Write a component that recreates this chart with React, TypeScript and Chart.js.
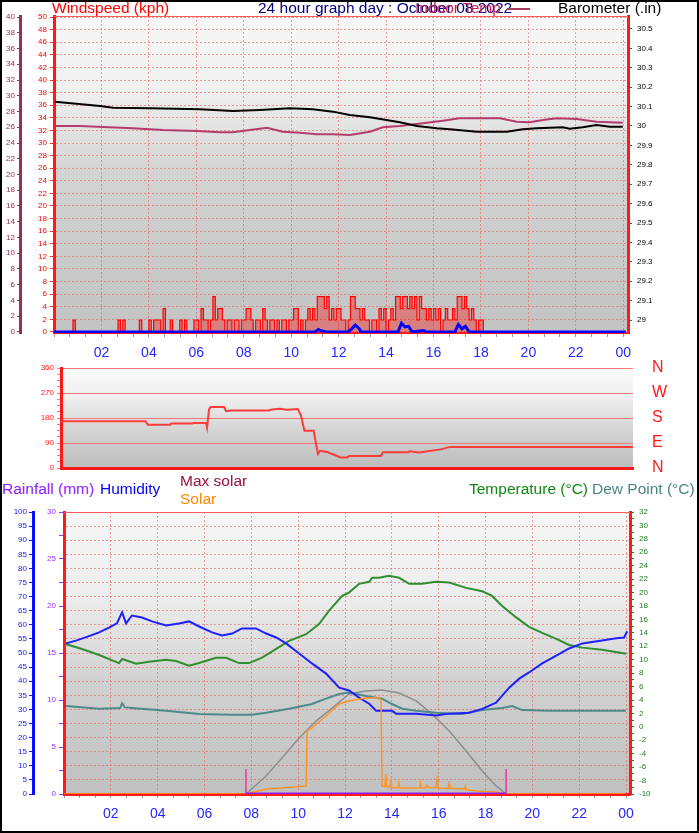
import React, { useEffect, useRef } from "react";
import { Chart, registerables } from "chart.js";

Chart.register(...registerables);

const FONT = "'Liberation Sans', Arial, Helvetica, sans-serif";
const GRID = "rgba(238, 80, 80, 0.55)";
const DASH = [2, 2];

// ---------- shared hour axis ----------
const hourTickValues = [2, 4, 6, 8, 10, 12, 14, 16, 18, 20, 22, 24];
const hourTickLabels = ["02", "04", "06", "08", "10", "12", "14", "16", "18", "20", "22", "00"];

// ---------- top panel: wind / barometer / indoor temp ----------
// gust (kph) every 0.1 h from 00:00
const gustKph = [
  0, 0, 0, 0, 0, 0, 0, 0, 1.9, 0,
  0, 0, 0, 0, 0, 0, 0, 0, 0, 0,
  0, 0, 0, 0, 0, 0, 0, 1.9, 0, 1.9,
  0, 0, 0, 0, 0, 0, 1.9, 0, 0, 0,
  1.9, 0, 1.9, 1.9, 1.9, 0, 3.7, 0, 0, 1.9,
  0, 0, 0, 1.9, 0, 1.9, 0, 0, 0, 1.9,
  1.9, 0, 3.7, 1.9, 1.9, 0, 1.9, 5.6, 1.9, 3.7,
  3.7, 1.9, 0, 1.9, 1.9, 0, 1.9, 1.9, 0, 1.9,
  1.9, 3.7, 3.7, 1.9, 0, 1.9, 1.9, 0, 3.7, 1.9,
  0, 1.9, 1.9, 0, 1.9, 0, 1.9, 1.9, 0, 1.9,
  1.9, 3.7, 3.7, 0, 1.9, 0, 1.9, 3.7, 1.9, 3.7,
  1.9, 5.6, 5.6, 5.6, 3.7, 5.6, 1.9, 3.7, 1.9, 3.7,
  3.7, 1.9, 1.9, 0, 1.9, 5.6, 5.6, 3.7, 3.7, 1.9,
  3.7, 1.9, 1.9, 0, 1.9, 1.9, 0, 3.7, 1.9, 3.7,
  0, 1.9, 3.7, 1.9, 5.6, 5.6, 3.7, 5.6, 5.6, 3.7,
  5.6, 3.7, 5.6, 1.9, 5.6, 3.7, 3.7, 1.9, 3.7, 1.9,
  3.7, 1.9, 3.7, 0, 1.9, 3.7, 1.9, 1.9, 3.7, 1.9,
  5.6, 5.6, 3.7, 5.6, 3.7, 1.9, 3.7, 1.9, 0, 1.9,
  1.9, 0, 0, 0, 0, 0, 0, 0, 0, 0,
  0, 0, 0, 0, 0, 0, 0, 0, 0, 0,
  0, 0, 0, 0, 0, 0, 0, 0, 0, 0,
  0, 0, 0, 0, 0, 0, 0, 0, 0, 0,
  0, 0, 0, 0, 0, 0, 0, 0, 0, 0,
  0, 0, 0, 0, 0, 0, 0, 0, 0, 0,
  0, 0,
];
const gustStepHours = 0.1;

const avgWindHours = [0, 11.0, 11.15, 11.25, 11.4, 11.5, 12.4, 12.55, 12.7, 12.85, 12.95, 14.5, 14.65, 14.8, 14.95, 15.1, 15.5, 15.6, 15.7, 16.9, 17.05, 17.2, 17.35, 17.5, 24.1];
const avgWindKph = [0, 0, 0.4, 0.2, 0.1, 0, 0, 0.5, 1.1, 0.6, 0, 0, 1.4, 0.8, 0.9, 0, 0.2, 0.2, 0, 0, 1.2, 0.5, 0.9, 0, 0];

const baroHours = [0.04, 1.94, 2.49, 4.05, 6.15, 7.54, 8.68, 9.95, 10.91, 11.76, 12.47, 13.32, 14.58, 15.3, 16.14, 16.69, 17.83, 19.09, 19.76, 20.35, 21.45, 21.74, 22.29, 22.88, 23.43, 23.98];
const baroInHg = [30.125, 30.103, 30.094, 30.091, 30.086, 30.077, 30.082, 30.091, 30.086, 30.074, 30.057, 30.045, 30.019, 30.0, 29.988, 29.983, 29.971, 29.971, 29.983, 29.988, 29.993, 29.986, 29.993, 30.005, 29.996, 29.996];

const indoorHours = [0.04, 1.1, 2.06, 3.33, 4.59, 6.03, 7.0, 7.54, 8.26, 8.98, 9.65, 10.37, 11.08, 11.76, 12.47, 13.32, 13.86, 14.58, 15.55, 16.39, 17.1, 18.8, 19.51, 20.06, 20.61, 21.2, 22.04, 22.88, 23.98];
const indoorTempC = [26.16, 26.16, 26.03, 25.87, 25.65, 25.52, 25.36, 25.36, 25.65, 25.94, 25.43, 25.31, 25.1, 25.1, 25.02, 25.43, 25.99, 26.16, 26.5, 26.83, 27.14, 27.14, 26.7, 26.63, 26.92, 27.14, 27.05, 26.7, 26.58];

const windAxisTicks = [0, 2, 4, 6, 8, 10, 12, 14, 16, 18, 20, 22, 24, 26, 28, 30, 32, 34, 36, 38, 40, 42, 44, 46, 48, 50];
const indoorAxisTicks = [0, 2, 4, 6, 8, 10, 12, 14, 16, 18, 20, 22, 24, 26, 28, 30, 32, 34, 36, 38, 40];
const baroAxisTicks = [29.0, 29.1, 29.2, 29.3, 29.4, 29.5, 29.6, 29.7, 29.8, 29.9, 30.0, 30.1, 30.2, 30.3, 30.4, 30.5];

// ---------- middle panel: wind direction ----------
const dirHours = [0, 3.58, 3.67, 4.62, 4.66, 5.57, 5.6, 6.14, 6.18, 6.26, 6.33, 6.9, 6.98, 7.18, 8.79, 8.85, 9.26, 9.55, 10.02, 10.15, 10.3, 10.69, 10.87, 10.96, 11.25, 11.63, 11.82, 12.1, 12.2, 13.53, 13.62, 14.67, 14.76, 15.14, 15.52, 16.07, 16.46, 24.2];
const dirDeg = [168, 168, 156, 156, 160, 160, 162, 162, 145, 210, 220, 220, 205, 207, 207, 210, 213, 210, 212, 190, 134, 134, 50, 62, 58, 45, 38, 38, 43, 43, 57, 57, 60, 56, 60, 67, 76, 76];
const dirTicks = [0, 90, 180, 270, 360];
const dirCompass = ["N", "E", "S", "W", "N"];

// ---------- bottom panel ----------
const tempHours = [0.09, 0.77, 1.5, 2.35, 2.48, 3.08, 3.63, 4.36, 4.78, 5.34, 5.77, 6.49, 6.92, 7.48, 7.9, 8.46, 9.06, 9.61, 10.34, 10.89, 11.32, 11.88, 12.17, 12.6, 13.03, 13.16, 13.46, 13.88, 14.31, 14.74, 15.29, 15.89, 16.45, 17.17, 17.86, 18.28, 18.71, 19.31, 19.86, 20.42, 21.02, 21.57, 22.13, 22.98, 24.0];
const tempC = [12.3, 11.6, 10.7, 9.5, 10.1, 9.4, 9.7, 10.0, 9.8, 9.1, 9.5, 10.3, 10.3, 9.5, 9.5, 10.3, 11.6, 12.8, 13.8, 15.3, 17.3, 19.5, 20.0, 21.3, 21.6, 22.2, 22.2, 22.5, 22.2, 21.3, 21.3, 21.6, 21.5, 20.7, 20.2, 19.5, 18.0, 16.3, 14.9, 14.0, 13.1, 12.2, 11.8, 11.5, 10.9];

const humHours = [0.09, 0.51, 1.07, 1.5, 1.92, 2.26, 2.48, 2.65, 2.9, 3.33, 3.76, 4.36, 4.91, 5.34, 5.77, 6.32, 6.75, 7.18, 7.6, 8.2, 8.63, 9.06, 9.48, 10.04, 10.59, 11.19, 11.75, 12.17, 12.6, 13.03, 13.33, 14.01, 14.18, 15.04, 15.89, 16.45, 17.3, 17.86, 18.45, 19.01, 19.44, 19.86, 20.42, 21.02, 21.57, 22.13, 22.98, 23.58, 23.92, 24.05];
const humPct = [53.4, 54.4, 56.0, 57.3, 59.0, 60.5, 64.4, 60.5, 63.3, 62.6, 61.2, 59.8, 60.5, 61.2, 59.4, 57.3, 56.2, 56.9, 58.7, 58.7, 56.9, 55.5, 53.4, 49.8, 46.3, 42.7, 37.7, 36.7, 34.2, 32.0, 29.5, 29.5, 28.5, 28.5, 27.8, 28.5, 28.8, 30.2, 32.4, 37.7, 40.9, 43.1, 46.3, 49.1, 51.6, 53.4, 54.4, 55.2, 55.5, 57.7];

const dewHours = [0.09, 1.5, 2.4, 2.48, 2.6, 2.9, 4.36, 5.77, 7.18, 8.03, 8.63, 9.61, 10.59, 11.19, 11.75, 12.17, 12.9, 13.58, 14.01, 14.44, 15.04, 15.89, 17.0, 17.86, 18.71, 19.14, 19.56, 20.72, 22.13, 24.0];
const dewC = [3.1, 2.7, 2.8, 3.5, 2.9, 2.8, 2.4, 1.9, 1.8, 1.8, 2.1, 2.7, 3.4, 4.2, 4.9, 5.1, 4.6, 4.2, 3.4, 2.7, 2.4, 2.1, 1.9, 2.5, 2.8, 3.1, 2.5, 2.4, 2.4, 2.4];

const maxSolarHours = [7.77, 8.63, 9.31, 10.04, 10.76, 11.45, 12.17, 12.9, 13.58, 14.31, 15.04, 15.72, 16.45, 17.17, 17.86, 18.45, 18.88];
const maxSolarWm2 = [0, 96, 191, 298, 388, 457, 532, 548, 553, 537, 495, 425, 335, 229, 122, 43, 0];

const solarHours = [0, 7.77, 8.63, 9.31, 10.34, 10.38, 10.59, 11.19, 11.75, 12.17, 12.9, 13.46, 13.54, 13.58, 13.7, 13.74, 13.78, 13.92, 13.96, 14.0, 14.26, 14.3, 14.34, 15.18, 15.22, 15.26, 15.45, 15.5, 15.56, 15.88, 15.93, 15.98, 16.4, 16.45, 16.5, 17.1, 17.14, 17.18, 17.6, 18.45, 18.88, 24.0];
const solarWm2 = [0, 0, 27, 32, 43, 335, 351, 415, 479, 495, 511, 511, 500, 43, 40, 106, 40, 36, 69, 35, 33, 59, 32, 32, 59, 32, 33, 48, 34, 33, 80, 32, 31, 59, 30, 27, 43, 22, 16, 11, 0, 0];

const rainHours = [7.77, 18.88];
const rainMm = [0, 0];

const sunEventHours = [7.77, 18.88]; // sunrise, sunset markers
const SUN_MARKER_TOP = 133; // marker height on the solar scale

// ---------- helpers ----------
const pairs = (xs: number[], ys: number[]) => xs.map((x, i) => ({ x, y: ys[i] }));
const steps = (a: number, b: number, s: number) => {
  const n = Math.round((b - a) / s);
  const out: number[] = [];
  for (let k = 0; k <= n; k++) out.push(Math.round((a + k * s) * 1000) / 1000);
  return out;
};
const near = (a: number, b: number) => Math.abs(a - b) < 1e-6;
const asTicks = (vals: number[]) => vals.map((value) => ({ value }));

const areaBg = (stops: Array<[number, string]>) => ({
  id: "areaBg",
  beforeDraw(chart: any) {
    const { ctx, chartArea: a } = chart;
    if (!a) return;
    const g = ctx.createLinearGradient(0, a.top, 0, a.bottom);
    stops.forEach(([o, c]) => g.addColorStop(o, c));
    ctx.save();
    ctx.fillStyle = g;
    ctx.fillRect(a.left, a.top, a.right - a.left, a.bottom - a.top);
    ctx.restore();
  },
});

const topEdge = (color: string) => ({
  id: "topEdge",
  afterDraw(chart: any) {
    const { ctx, chartArea: a } = chart;
    ctx.save();
    ctx.strokeStyle = color;
    ctx.lineWidth = 1;
    ctx.beginPath();
    ctx.moveTo(a.left, a.top + 0.5);
    ctx.lineTo(a.right, a.top + 0.5);
    ctx.stroke();
    ctx.restore();
  },
});

function hourAxis(max: number, height: number, labels: boolean, borderWidth: number) {
  return {
    type: "linear",
    position: "bottom",
    min: 0,
    max,
    afterFit: (s: any) => {
      s.height = height;
    },
    afterBuildTicks: (s: any) => {
      s.ticks = asTicks(steps(0, 24, 2 / 3));
    },
    ticks: {
      display: labels,
      autoSkip: false,
      maxRotation: 0,
      minRotation: 0,
      padding: 8,
      color: "#2626ff",
      font: { family: FONT, size: 14 },
      callback: (v: number) => {
        const i = hourTickValues.findIndex((h) => near(h, v));
        return i >= 0 ? hourTickLabels[i] : "";
      },
    },
    grid: {
      display: true,
      drawOnChartArea: labels,
      drawTicks: labels,
      tickLength: 4,
      color: (c: any) => (c.tick && hourTickValues.some((h) => near(h, c.tick.value)) ? GRID : "rgba(0,0,0,0)"),
      tickColor: "#999999",
    },
    border: { display: true, color: "#ff1a1a", width: borderWidth, dash: DASH },
  };
}

const line = (data: any[], color: string, width: number, yAxisID: string, order: number, extra: any = {}) => ({
  type: "line",
  data,
  borderColor: color,
  backgroundColor: color,
  borderWidth: width,
  pointRadius: 0,
  fill: false,
  tension: 0,
  yAxisID,
  order,
  ...extra,
});

const baseOptions = {
  responsive: false,
  animation: false,
  events: [],
  plugins: { legend: { display: false }, tooltip: { enabled: false } },
  elements: { point: { radius: 0 } },
};

function topConfig(): any {
  return {
    type: "line",
    data: {
      datasets: [
        line(pairs(avgWindHours, avgWindKph), "#0000ff", 3, "yWind", 0),
        line(gustKph.map((y, i) => ({ x: i * gustStepHours, y })), "#ff0000", 1.2, "yWind", 1, {
          stepped: true,
          fill: "origin",
          backgroundColor: "rgba(255,0,0,0.35)",
        }),
        line(pairs(baroHours, baroInHg), "#000000", 2, "yBaro", 2),
        line(pairs(indoorHours, indoorTempC), "#b23d6b", 2, "yIn", 3),
      ],
    },
    options: {
      ...baseOptions,
      layout: { padding: { top: 16, left: 0, right: 0, bottom: 0 } },
      scales: {
        x: hourAxis(24.2, 33, true, 2),
        yIn: {
          type: "linear",
          position: "left",
          weight: 1,
          min: -0.13,
          max: 40.13,
          afterFit: (s: any) => {
            s.width = 20;
          },
          afterBuildTicks: (s: any) => {
            s.ticks = asTicks(indoorAxisTicks);
          },
          ticks: { color: "#a3285c", font: { family: FONT, size: 8 }, padding: 2, autoSkip: false },
          grid: { drawOnChartArea: false, tickLength: 3, tickColor: "#a3285c" },
          border: { color: "#a3285c", width: 3 },
        },
        yWind: {
          type: "linear",
          position: "left",
          weight: 0,
          min: -0.16,
          max: 50.16,
          afterFit: (s: any) => {
            s.width = 34;
          },
          afterBuildTicks: (s: any) => {
            s.ticks = asTicks(windAxisTicks);
          },
          ticks: { color: "#ff0000", font: { family: FONT, size: 8 }, padding: 3, autoSkip: false },
          grid: { drawOnChartArea: true, color: GRID, tickLength: 4, tickColor: "#ff3030" },
          border: { color: "#ff1a1a", width: 3, dash: DASH },
        },
        yBaro: {
          type: "linear",
          position: "right",
          min: 28.933,
          max: 30.567,
          afterFit: (s: any) => {
            s.width = 71;
          },
          afterBuildTicks: (s: any) => {
            s.ticks = asTicks(baroAxisTicks);
          },
          ticks: {
            color: "#000000",
            font: { family: FONT, size: 8 },
            padding: 5,
            autoSkip: false,
            callback: (v: number) => String(Number(v.toFixed(1))),
          },
          grid: { drawOnChartArea: false, tickLength: 4, tickColor: "#555555" },
          border: { color: "#ff1a1a", width: 3 },
        },
      },
    },
    plugins: [
      areaBg([
        [0, "#f7f7f7"],
        [0.22, "#f1f1f1"],
        [0.5, "#d3d3d3"],
        [1, "#c3c3c3"],
      ]),
      topEdge("#ff5a5a"),
    ],
  };
}

function midConfig(): any {
  return {
    type: "line",
    data: {
      datasets: [line(pairs(dirHours, dirDeg), "#ff3b3b", 2, "yDir", 0)],
    },
    options: {
      ...baseOptions,
      layout: { padding: { top: 13, left: 0, right: 0, bottom: 0 } },
      scales: {
        x: {
          type: "linear",
          position: "bottom",
          min: 0,
          max: 24.2,
          afterFit: (s: any) => {
            s.height = 12;
          },
          ticks: { display: false },
          grid: { display: true, drawOnChartArea: false, drawTicks: false, color: "rgba(0,0,0,0)" },
          border: { display: true, color: "#ff1a1a", width: 3 },
        },
        yDir: {
          type: "linear",
          position: "left",
          min: 0,
          max: 360,
          afterFit: (s: any) => {
            s.width = 61;
          },
          afterBuildTicks: (s: any) => {
            s.ticks = asTicks(steps(0, 360, 22.5));
          },
          ticks: {
            color: "#ff1a1a",
            font: { family: FONT, size: 8 },
            padding: 3,
            autoSkip: false,
            callback: (v: number) => (dirTicks.some((t) => near(t, v)) ? String(v) : ""),
          },
          grid: {
            drawOnChartArea: true,
            color: (c: any) => (c.tick && dirTicks.some((t) => near(t, c.tick.value)) ? "#f27a7a" : "rgba(0,0,0,0)"),
            tickLength: 4,
            tickColor: "#f27a7a",
          },
          border: { color: "#ff1a1a", width: 3 },
        },
        yDirN: {
          type: "linear",
          position: "right",
          min: 0,
          max: 360,
          afterFit: (s: any) => {
            s.width = 66;
          },
          afterBuildTicks: (s: any) => {
            s.ticks = asTicks(dirTicks);
          },
          ticks: {
            color: "#ff1a1a",
            font: { family: FONT, size: 16 },
            padding: 0,
            autoSkip: false,
            callback: (_v: number, i: number) => dirCompass[i],
          },
          grid: {
            display: true,
            drawOnChartArea: false,
            drawTicks: true,
            tickLength: 19,
            color: "rgba(0,0,0,0)",
            tickColor: "rgba(0,0,0,0)",
          },
          border: { display: false },
        },
      },
    },
    plugins: [
      areaBg([
        [0, "#fbfbfb"],
        [0.3, "#efefef"],
        [0.65, "#d2d2d2"],
        [1, "#bdbdbd"],
      ]),
    ],
  };
}

function bottomConfig(): any {
  const sunMarkers = sunEventHours.map((h) =>
    line(
      [
        { x: h, y: 0 },
        { x: h, y: SUN_MARKER_TOP },
      ],
      "#f0359a",
      1.5,
      "ySolar",
      1
    )
  );
  return {
    type: "line",
    data: {
      datasets: [
        line(pairs(rainHours, rainMm), "#8c1cff", 3, "yRain", 0),
        ...sunMarkers,
        line(pairs(solarHours, solarWm2), "#ff9424", 1.5, "ySolar", 2),
        line(pairs(humHours, humPct), "#1f1fff", 2, "yHum", 3),
        line(pairs(dewHours, dewC), "#4d8a8a", 2, "yT", 4),
        line(pairs(tempHours, tempC), "#2f8f2f", 2, "yT", 5),
        line(pairs(maxSolarHours, maxSolarWm2), "#8e8e8e", 1.5, "ySolar", 6),
      ],
    },
    options: {
      ...baseOptions,
      layout: { padding: { top: 12, left: 0, right: 0, bottom: 0 } },
      scales: {
        x: hourAxis(24.17, 39, true, 3),
        yHum: {
          type: "linear",
          position: "left",
          weight: 1,
          min: 0,
          max: 100,
          afterFit: (s: any) => {
            s.width = 33;
          },
          afterBuildTicks: (s: any) => {
            s.ticks = asTicks(steps(0, 100, 5));
          },
          ticks: { color: "#1414ff", font: { family: FONT, size: 8 }, padding: 2, autoSkip: false },
          grid: { drawOnChartArea: true, color: GRID, tickLength: 4, tickColor: "#1414ff" },
          border: { color: "#0a0aff", width: 3, dash: DASH },
        },
        yRain: {
          type: "linear",
          position: "left",
          weight: 0,
          min: 0,
          max: 30,
          afterFit: (s: any) => {
            s.width = 31;
          },
          afterBuildTicks: (s: any) => {
            s.ticks = asTicks(steps(0, 30, 2.5));
          },
          ticks: {
            color: "#9a30ff",
            font: { family: FONT, size: 8 },
            padding: 3,
            autoSkip: false,
            callback: (v: number) => (near(v % 5, 0) ? String(v) : ""),
          },
          grid: { drawOnChartArea: false, tickLength: 5, tickColor: "#9a30ff" },
          border: { color: "#ff1a1a", width: 3 },
        },
        yT: {
          type: "linear",
          position: "right",
          min: -10,
          max: 32,
          afterFit: (s: any) => {
            s.width = 69;
          },
          afterBuildTicks: (s: any) => {
            s.ticks = asTicks(steps(-10, 32, 1));
          },
          ticks: {
            color: "#1b7d1b",
            font: { family: FONT, size: 8 },
            padding: 5,
            autoSkip: false,
            callback: (v: number) => (near(Math.abs(v) % 2, 0) ? String(v) : ""),
          },
          grid: { drawOnChartArea: false, tickLength: 4, tickColor: "#1b7d1b" },
          border: { color: "#ff1a1a", width: 3 },
        },
        ySolar: { type: "linear", display: false, min: 0, max: 1500 },
      },
    },
    plugins: [
      areaBg([
        [0, "#f7f7f7"],
        [0.3, "#ededed"],
        [0.62, "#d0d0d0"],
        [1, "#c0c0c0"],
      ]),
      topEdge("#ff5a5a"),
    ],
  };
}

const txt = (left: number, top: number, color: string, text: string) => (
  <div
    key={text + left}
    style={{
      position: "absolute",
      left,
      top,
      color,
      fontSize: 15.5,
      lineHeight: "15.5px",
      whiteSpace: "nowrap",
      fontFamily: FONT,
    }}
  >
    {text}
  </div>
);

export default function App() {
  const r1 = useRef<HTMLCanvasElement>(null);
  const r2 = useRef<HTMLCanvasElement>(null);
  const r3 = useRef<HTMLCanvasElement>(null);

  useEffect(() => {
    const charts = [
      new Chart(r1.current as HTMLCanvasElement, topConfig()),
      new Chart(r2.current as HTMLCanvasElement, midConfig()),
      new Chart(r3.current as HTMLCanvasElement, bottomConfig()),
    ];
    return () => charts.forEach((c) => c.destroy());
  }, []);

  return (
    <div
      style={{
        position: "absolute",
        left: 0,
        top: 0,
        width: 699,
        height: 833,
        background: "#ffffff",
        overflow: "hidden",
        fontFamily: FONT,
      }}
    >
      <canvas ref={r1} width={699} height={366} style={{ position: "absolute", left: 0, top: 0, width: 699, height: 366 }} />
      <canvas ref={r2} width={699} height={125} style={{ position: "absolute", left: 0, top: 355, width: 699, height: 125 }} />
      <canvas ref={r3} width={699} height={333} style={{ position: "absolute", left: 0, top: 500, width: 699, height: 333 }} />

      {txt(52, 0, "#ff0000", "Windspeed (kph)")}
      {txt(258, 0, "#000080", "24 hour graph day : October 08 2022")}
      {txt(415, 0, "#cc1f4f", "Indoor Temp")}
      <div style={{ position: "absolute", left: 507, top: 8, width: 23, height: 2, background: "#a8385e" }} />
      {txt(558, 0, "#000000", "Barometer (.in)")}

      {txt(2, 481, "#9020ff", "Rainfall (mm)")}
      {txt(100, 481, "#0000ff", "Humidity")}
      {txt(180, 473, "#9b1042", "Max solar")}
      {txt(180, 491, "#ff8800", "Solar")}
      {txt(469, 481, "#118811", "Temperature (°C)")}
      {txt(592, 481, "#4a8585", "Dew Point (°C)")}

      <div
        style={{
          position: "absolute",
          left: 0,
          top: 0,
          width: 699,
          height: 833,
          border: "2px solid #000000",
          boxSizing: "border-box",
          pointerEvents: "none",
        }}
      />
    </div>
  );
}
